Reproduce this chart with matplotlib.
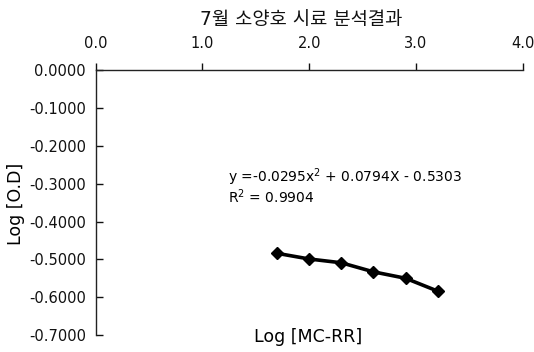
import matplotlib
matplotlib.use("Agg")
import matplotlib.pyplot as plt

plt.rcParams['font.family'] = ['DejaVu Sans', 'Noto Sans CJK KR']

title = "7월 소양호 시료 분석결과"
x_label = "Log [MC-RR]"
y_label = "Log [O.D]"
log_mc = [1.699, 2.000, 2.301, 2.602, 2.903, 3.204]
log_od = [-0.484, -0.499, -0.509, -0.533, -0.550, -0.584]
x_ticks = [0.0, 1.0, 2.0, 3.0, 4.0]
y_ticks = [0.0, -0.1, -0.2, -0.3, -0.4, -0.5, -0.6, -0.7]
eq_text = "y =-0.0295x$^2$ + 0.0794X - 0.5303"
r2_text = "R$^2$ = 0.9904"

W, H = 534, 352
fig = plt.figure(figsize=(W / 100, H / 100), dpi=100)
left, right, top, bottom = 95.7, 522.7, 70.3, 335
ax = fig.add_axes([left / W, 1 - bottom / H, (right - left) / W, (bottom - top) / H])

ax.plot(log_mc, log_od, color='black', lw=2.6, marker='D', ms=6, mfc='black', mec='black')

ax.set_xlim(0, 4)
ax.set_ylim(-0.7, 0)
ax.xaxis.tick_top()
ax.set_xticks(x_ticks)
ax.set_xticklabels([f"{v:.1f}" for v in x_ticks])
ax.set_yticks(y_ticks)
ax.set_yticklabels([f"{v:.4f}" if v != 0 else "0.0000" for v in y_ticks])
for s in ['bottom', 'right']:
    ax.spines[s].set_visible(False)
for s in ['top', 'left']:
    ax.spines[s].set_linewidth(1.0)
    ax.spines[s].set_color('#222222')
ax.tick_params(axis='x', direction='out', length=5, width=1, pad=9, labelsize=10.5, colors='#111111')
ax.tick_params(axis='y', direction='in', length=5, width=1, pad=7, labelsize=10.5, colors='#111111')

ax.text(228 / W, 1 - 177 / H, eq_text, transform=fig.transFigure, fontsize=10, va='center', ha='left')
ax.text(228 / W, 1 - 197 / H, r2_text, transform=fig.transFigure, fontsize=10, va='center', ha='left')

fig.text(301.5 / W, 1 - 19 / H, title, fontsize=13.5, ha='center', va='center', color='#111111')
fig.text(308 / W, 1 - 337 / H, x_label, fontsize=12.5, ha='center', va='center')
fig.text(16 / W, 1 - 204 / H, y_label, fontsize=12.5, ha='center', va='center', rotation=90)

fig.savefig("out.png", dpi=100)
